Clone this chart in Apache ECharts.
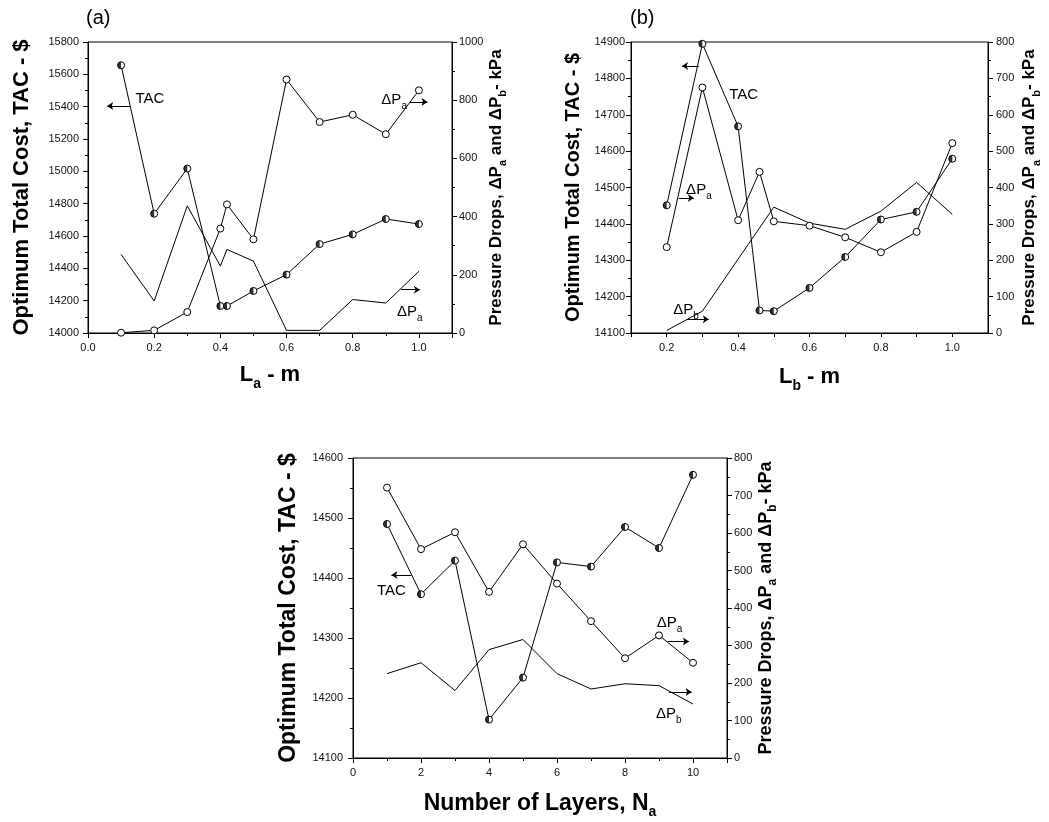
<!DOCTYPE html>
<html><head><meta charset="utf-8">
<script src="https://cdn.jsdelivr.net/npm/echarts@6/dist/echarts.min.js"></script>
<style>html,body{margin:0;padding:0;background:#fff}#c{width:1049px;height:822px}</style>
</head><body><div id="c"></div>
<script>
// ---- Panel (a): effect of L_a ----
const aX   = [0.1, 0.2, 0.3, 0.4, 0.42, 0.5, 0.6, 0.7, 0.8, 0.9, 1.0];
const aTAC = [15656, 14738, 15017, 14167, 14167, 14260, 14361, 14550, 14610, 14705, 14674];
const aDPa = [1, 9, 72, 359, 442, 322, 871, 725, 750, 683, 834];
const aDPb = [270, 110, 437, 230, 287, 247, 9, 9, 115, 103, 212];
// ---- Panel (b): effect of L_b ----
const bX   = [0.2, 0.3, 0.4, 0.46, 0.5, 0.6, 0.7, 0.8, 0.9, 1.0];
const bTAC = [14451, 14895, 14668, 14162, 14160, 14224, 14309, 14412, 14433, 14579];
const bDPa = [236, 675, 310, 443, 307, 295, 263, 222, 278, 522];
const bXPb = [0.2, 0.3, 0.4, 0.5, 0.6, 0.7, 0.8, 0.9, 1.0];
const bDPb = [7, 60, 203, 346, 302, 285, 335, 414, 326];
// ---- Panel (c): effect of number of layers ----
const cX   = [1, 2, 3, 4, 5, 6, 7, 8, 9, 10];
const cTAC = [14490, 14373, 14429, 14164, 14234, 14426, 14419, 14485, 14450, 14572];
const cDPa = [721, 557, 602, 443, 570, 465, 365, 266, 327, 254];
const cDPb = [225, 254, 180, 289, 316, 225, 184, 198, 193, 144];
// axis scales [min, max, interval]
const aXScale = [0, 1.1, 0.2], aYL = [14000, 15800, 200], aYR = [0, 1000, 200];
const bXScale = [0.1, 1.1, 0.1], bYL = [14100, 14900, 100], bYR = [0, 800, 100];
const cXScale = [0, 11, 2],     cYL = [14100, 14600, 100], cYR = [0, 800, 100];

const FONT = 'Arial, "Liberation Sans", Helvetica, sans-serif';
const HALF = 'path://M10,0 A10,10 0 0,0 10,20 Z';
function pairs(xs, ys) { return xs.map((x, i) => [x, ys[i]]); }
function R(main, sub, pad, bold) {
  const fw = bold ? 'bold' : 'normal';
  return {
    m: {fontSize: main, lineHeight: main, fontWeight: fw, fontFamily: FONT, color: '#000', verticalAlign: 'top'},
    s: {fontSize: sub, lineHeight: sub, fontWeight: fw, fontFamily: FONT, color: '#000', verticalAlign: 'top', padding: [pad, 0, 0, 0]}
  };
}
function axisCommon(labelMargin) {
  return {
    axisLine: {show: true, onZero: false, lineStyle: {color: '#000', width: 1}},
    axisTick: {show: true, inside: false, length: 5, lineStyle: {color: '#000', width: 1}},
    minorTick: {show: true, splitNumber: 2, length: 3, lineStyle: {color: '#000', width: 1}},
    splitLine: {show: false}, minorSplitLine: {show: false},
    axisLabel: {color: '#111', fontSize: 11, fontFamily: FONT, margin: labelMargin, showMaxLabel: false}
  };
}
function xAx(gi, sc, name, rich, gap, fmt, minor) {
  const o = Object.assign(axisCommon(9), {
    type: 'value', gridIndex: gi, min: sc[0], max: sc[1], interval: sc[2],
    name: name, nameLocation: 'middle', nameGap: gap,
    nameTextStyle: {rich: rich, fontFamily: FONT, fontWeight: 'bold', color: '#000'}
  });
  o.axisLabel.formatter = fmt;
  if (!minor) { o.minorTick = {show: false}; o.axisTick.length = 4; }
  return o;
}
function yAx(gi, sc, pos, name, rich, gap, margin) {
  const o = Object.assign(axisCommon(margin), {
    type: 'value', gridIndex: gi, position: pos, min: sc[0], max: sc[1], interval: sc[2],
    name: name, nameLocation: 'middle', nameRotate: 90, nameGap: gap,
    nameTextStyle: {rich: rich, fontFamily: FONT, fontWeight: 'bold', color: '#000'}
  });
  o.axisLabel.showMaxLabel = true;
  o.axisLabel.formatter = v => String(Math.round(v));
  return o;
}
function textMark(x, y, fmt, dy) {
  return {
    coord: [x, y], symbol: 'circle', symbolSize: 1, itemStyle: {color: 'rgba(0,0,0,0)'},
    label: {show: true, position: 'right', distance: 0, offset: [0, dy || 0], formatter: fmt, rich: R(15, 10, 9, false)}
  };
}
function marks(texts, arrows) {
  return {
    markPoint: {silent: true, animation: false, data: texts},
    markLine: {
      silent: true, animation: false, symbol: ['none', 'arrow'], symbolSize: 6,
      label: {show: false}, lineStyle: {color: '#000', width: 1, type: 'solid'},
      emphasis: {disabled: true},
      data: arrows.map(a => [{coord: [a[0], a[2]]}, {coord: [a[1], a[2]]}])
    }
  };
}
function tac(xi, yi, xs, ys, mk) {
  return [
    Object.assign({type: 'line', xAxisIndex: xi, yAxisIndex: yi, data: pairs(xs, ys), symbol: 'circle', symbolSize: 7,
      itemStyle: {color: '#fff', borderColor: '#000', borderWidth: 1}, lineStyle: {color: '#000', width: 1}, z: 3}, mk),
    {type: 'scatter', xAxisIndex: xi, yAxisIndex: yi, data: pairs(xs, ys), symbol: HALF, symbolSize: [3.5, 7],
      symbolOffset: [-1.75, 0], itemStyle: {color: '#000'}, z: 4, silent: true}
  ];
}
function dpa(xi, yi, xs, ys, mk) {
  return Object.assign({type: 'line', xAxisIndex: xi, yAxisIndex: yi, data: pairs(xs, ys), symbol: 'circle', symbolSize: 7,
    itemStyle: {color: '#fff', borderColor: '#000', borderWidth: 1}, lineStyle: {color: '#000', width: 1}, z: 3}, mk);
}
function dpb(xi, yi, xs, ys, mk) {
  return Object.assign({type: 'line', xAxisIndex: xi, yAxisIndex: yi, data: pairs(xs, ys), symbol: 'none', showSymbol: false,
    lineStyle: {color: '#000', width: 1}, z: 2}, mk);
}

const leftName = 'Optimum Total Cost, TAC - $';
const rightName = '{m|Pressure Drops, ΔP}{s|a}{m| and ΔP}{s|b}{m|- kPa}';
const fmt1 = v => v.toFixed(1);
const fmtB = v => { const k = Math.round(v * 10); return (k % 2 === 0 && k <= 10) ? v.toFixed(1) : ''; };
const fmt0 = v => String(Math.round(v));

const option = {
  animation: false,
  backgroundColor: '#fff',
  title: [
    {text: '(a)', left: 86, top: 8, padding: 0, textStyle: {fontSize: 20, fontWeight: 'normal', fontFamily: FONT, color: '#000'}},
    {text: '(b)', left: 630, top: 8, padding: 0, textStyle: {fontSize: 20, fontWeight: 'normal', fontFamily: FONT, color: '#000'}}
  ],
  grid: [
    {left: 88, top: 42, width: 364, height: 291, show: true, borderColor: '#000', borderWidth: 1, backgroundColor: 'transparent'},
    {left: 631, top: 42, width: 357, height: 291, show: true, borderColor: '#000', borderWidth: 1, backgroundColor: 'transparent'},
    {left: 353, top: 458, width: 374, height: 300, show: true, borderColor: '#000', borderWidth: 1, backgroundColor: 'transparent'}
  ],
  xAxis: [
    xAx(0, aXScale, '{m|L}{s|a}{m| - m}', R(22, 14, 13, true), 31, fmt1, true),
    xAx(1, bXScale, '{m|L}{s|b}{m| - m}', R(22, 14, 13, true), 33, fmtB, false),
    xAx(2, cXScale, '{m|Number of Layers, N}{s|a}', R(23, 14, 13, true), 34, fmt0, true)
  ],
  yAxis: [
    yAx(0, aYL, 'left', '{m|' + leftName + '}', R(22, 14, 0, true), 55, 9),
    yAx(0, aYR, 'right', rightName, R(17, 11, 10, true), 30, 7),
    yAx(1, bYL, 'left', '{m|' + leftName + '}', R(20, 13, 0, true), 48, 6),
    yAx(1, bYR, 'right', rightName, R(17, 11, 10, true), 33, 8),
    yAx(2, cYL, 'left', '{m|' + leftName + '}', R(23, 14, 0, true), 53, 10),
    yAx(2, cYR, 'right', rightName, R(18, 12, 10, true), 30, 7)
  ],
  series: [].concat(
    tac(0, 0, aX, aTAC, marks([textMark(0.142, 15446, '{m|TAC}')], [[0.127, 0.058, 15404]])),
    dpa(0, 1, aX, aDPa, marks([textMark(0.885, 808, '{m|ΔP}{s|a}', 2)], [[0.973, 1.026, 794]])),
    dpb(0, 1, aX, aDPb, marks([textMark(0.932, 81, '{m|ΔP}{s|a}', 2)], [[0.946, 1.003, 149]])),
    tac(1, 2, bX, bTAC, marks([textMark(0.374, 14756, '{m|TAC}')], [[0.290, 0.243, 14834]])),
    dpa(1, 3, bX, bDPa, marks([textMark(0.253, 399, '{m|ΔP}{s|a}', 2)], [[0.234, 0.276, 371]])),
    dpb(1, 3, bXPb, bDPb, marks([textMark(0.217, 69, '{m|ΔP}{s|b}', 2)], [[0.257, 0.318, 38]])),
    tac(2, 4, cX, cTAC, marks([textMark(0.69, 14379, '{m|TAC}')], [[1.72, 1.13, 14405]])),
    dpa(2, 5, cX, cDPa, marks([textMark(8.92, 367, '{m|ΔP}{s|a}', 2)], [[9.25, 9.88, 311]])),
    dpb(2, 5, cX, cDPb, marks([textMark(8.90, 124, '{m|ΔP}{s|b}', 2)], [[9.29, 9.96, 176]]))
  )
};
const chart = echarts.init(document.getElementById('c'), null, {renderer: 'canvas'});
chart.setOption(option);
</script>
</body></html>
